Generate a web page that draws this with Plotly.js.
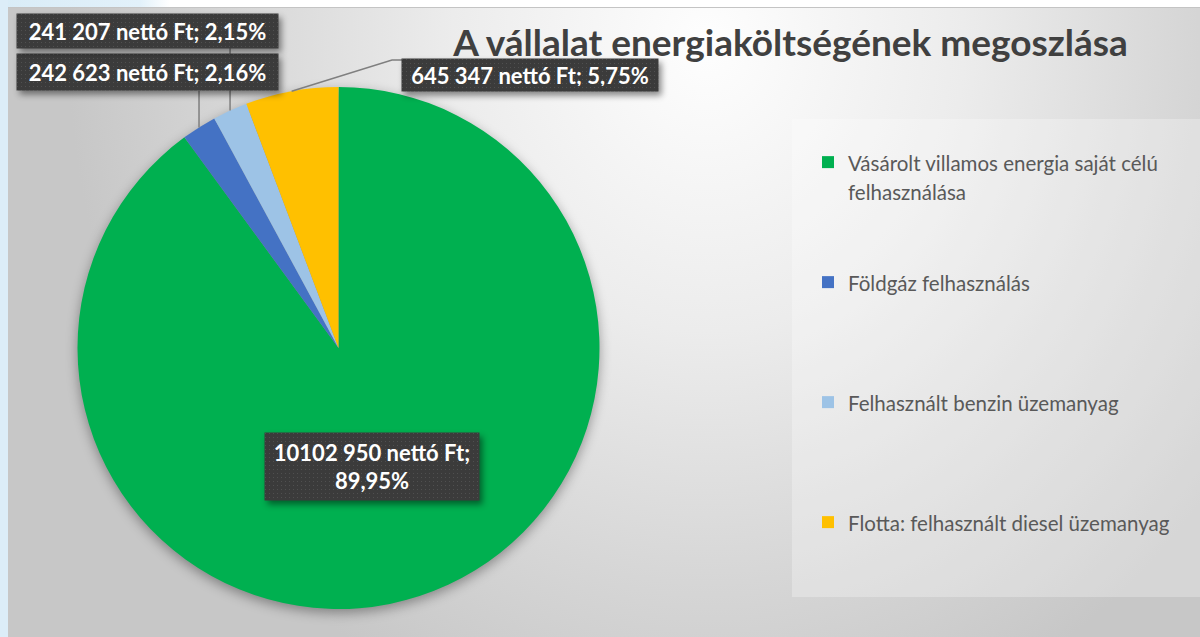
<!DOCTYPE html>
<html><head><meta charset="utf-8">
<script src="https://cdn.plot.ly/plotly-3.0.1.min.js"></script>
<style>
html,body{margin:0;padding:0;width:1200px;height:637px;overflow:hidden;}
body{background:linear-gradient(to right,#d9ecf7 0px,#e2f1fa 140px,#ffffff 170px);position:relative;}
#leftstrip{position:absolute;left:0;top:0;width:8px;height:637px;background:#dcedf8;}
#card{position:absolute;left:8px;top:7px;width:1192px;height:630px;box-sizing:border-box;border-top:1px solid #c4c4c4;
 background:radial-gradient(ellipse 640px 720px at 700px 35px,#fefefe 0%,#ececec 40%,#d6d6d6 75%,#c7c7c7 100%);}
#chart{position:absolute;left:0;top:0;width:1200px;height:637px;}
.pielayer{filter:drop-shadow(0px 4px 6px rgba(0,0,0,0.35));}
.annotation-text-g rect.bg{fill:url(#dots) !important;filter:drop-shadow(3px 4px 3px rgba(0,0,0,0.45));}
</style></head>
<body>
<svg width="0" height="0" style="position:absolute"><defs>
<pattern id="dots" width="4" height="4" patternUnits="userSpaceOnUse">
<rect width="4" height="4" fill="#3b3b3b"/><rect x="1" y="1" width="1" height="1" fill="#505050"/>
</pattern></defs></svg>
<div id="leftstrip"></div>
<div id="card"></div>
<div id="chart"></div>
<script>
// ---- data ----
const categories = [
  "Vásárolt villamos energia saját célú<br>felhasználása",
  "Földgáz felhasználás",
  "Felhasznált benzin üzemanyag",
  "Flotta: felhasznált diesel üzemanyag"
];
const values = [10102950, 242623, 241207, 645347];
const colors = ["#00B050", "#4472C4", "#9DC3E6", "#FFC000"];
const labelTexts = [
  "10102 950 nettó Ft;<br>89,95%",
  "242 623 nettó Ft; 2,16%",
  "241 207 nettó Ft; 2,15%",
  "645 347 nettó Ft; 5,75%"
];
const chartTitle = "A vállalat energiaköltségének megoszlása";

// ---- layout geometry (px) ----
const W = 1200, H = 637;
const PIE = {cx: 338.5, cy: 348, r: 261};
const px = x => x / W;
const py = y => 1 - y / H;

// legend names padded with blank lines so entries are spaced like the reference
const NB = "\u00a0";
const legendLabels = categories.map((c, i) => {
  const parts = c.split("<br>").map(s => '<span style="font-size:20.5px">' + s + '</span>');
  const pad = i === categories.length - 1 ? 0 : 4 - parts.length;
  let s = parts.join("<br>");
  for (let k = 0; k < pad; k++) s += "<br>" + NB;
  return s;
});

// slice mid-angle edge points (clockwise from 12 o'clock), from the data
const total = values.reduce((a, b) => a + b, 0);
let cum = 0;
const edgePts = values.map(v => {
  const mid = (cum + v / 2) / total * 2 * Math.PI;
  cum += v;
  return {x: PIE.cx + PIE.r * Math.sin(mid), y: PIE.cy - PIE.r * Math.cos(mid)};
});

// label boxes: centre and inner size (px)
const boxes = [
  {c: [372, 466.5], w: 204, h: 57},
  {c: [147.5, 72], w: 251, h: 26},
  {c: [147.5, 31], w: 251, h: 24},
  {c: [530, 74.5], w: 246, h: 22}
];

const annotations = labelTexts.map((t, i) => ({
  xref: 'paper', yref: 'paper', x: px(boxes[i].c[0]), y: py(boxes[i].c[1]),
  xanchor: 'center', yanchor: 'middle', showarrow: false,
  text: t, align: 'center', width: boxes[i].w, height: boxes[i].h, valign: 'middle',
  font: {family: 'Lato', size: 22, color: '#ffffff', weight: 'bold'},
  bgcolor: '#3c3c3c', borderpad: 5
}));

const lineStyle = {color: '#7f7f7f', width: 1.5};
const shapes = [
  // legend panel
  {type: 'rect', xref: 'paper', yref: 'paper', layer: 'below',
   x0: px(792), x1: 1, y0: py(597), y1: py(119),
   fillcolor: 'rgba(255,255,255,0.28)', line: {width: 0}},
  // leader lines
  {type: 'line', xref: 'paper', yref: 'paper', layer: 'above',
   x0: px(edgePts[1].x), x1: px(edgePts[1].x), y0: py(edgePts[1].y), y1: py(91), line: lineStyle},
  {type: 'line', xref: 'paper', yref: 'paper', layer: 'above',
   x0: px(edgePts[2].x), x1: px(edgePts[2].x), y0: py(edgePts[2].y), y1: py(48), line: lineStyle},
  {type: 'path', xref: 'paper', yref: 'paper', layer: 'above',
   path: `M ${px(edgePts[3].x)} ${py(edgePts[3].y)} L ${px(392)} ${py(60)} L ${px(404)} ${py(60)}`,
   line: lineStyle}
];

const trace = {
  type: 'pie', labels: legendLabels, values: values, sort: false,
  direction: 'clockwise', rotation: 0,
  marker: {colors: colors, line: {width: 0}},
  textinfo: 'none', hoverinfo: 'label+value+percent',
  domain: {x: [px(PIE.cx - PIE.r), px(PIE.cx + PIE.r)], y: [py(PIE.cy + PIE.r), py(PIE.cy - PIE.r)]}
};

const layout = {
  width: W, height: H, margin: {l: 0, r: 0, t: 0, b: 0},
  paper_bgcolor: 'rgba(0,0,0,0)', plot_bgcolor: 'rgba(0,0,0,0)',
  title: {text: chartTitle, x: px(790.5), xanchor: 'center', y: py(43), yanchor: 'middle',
          font: {family: 'Lato', size: 37, color: '#404040', weight: 'bold'}},
  showlegend: true,
  legend: {x: px(808), xanchor: 'left', y: py(141), yanchor: 'top', valign: 'top',
           bgcolor: 'rgba(0,0,0,0)', font: {family: 'Lato', size: 22.5, color: '#595959'},
           traceorder: 'normal'},
  annotations: annotations, shapes: shapes
};

Plotly.newPlot('chart', [trace], layout, {displayModeBar: false, staticPlot: true});
</script>
</body></html>
